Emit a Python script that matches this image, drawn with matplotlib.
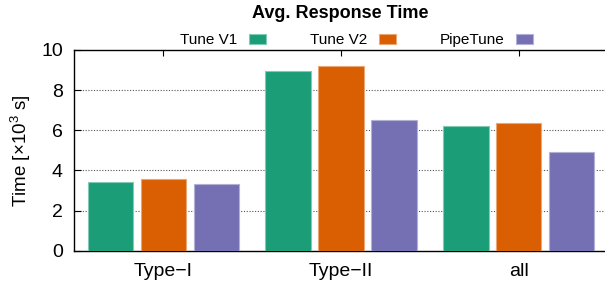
import matplotlib
matplotlib.use("Agg")
import matplotlib.pyplot as plt
import matplotlib.colors as mcolors
import numpy as np

plt.rcParams['font.family'] = ['Liberation Sans', 'DejaVu Sans']
plt.rcParams['mathtext.fontset'] = 'custom'
plt.rcParams['mathtext.rm'] = 'Liberation Sans'
plt.rcParams['mathtext.it'] = 'Liberation Sans:italic'

# datos
categorias = ["Type\u2212I", "Type\u2212II", "all"]
series = ["Tune V1", "Tune V2", "PipeTune"]
tune_v1 = [3.44, 8.95, 6.20]
tune_v2 = [3.56, 9.19, 6.36]
pipetune = [3.34, 6.51, 4.92]
colores = ["#1b9e77", "#d95f02", "#7570b3"]

def aclarar(c, f=0.45):
    r, g, b = mcolors.to_rgb(c)
    return (r + (1 - r) * f, g + (1 - g) * f, b + (1 - b) * f)

fig = plt.figure(figsize=(6.05, 2.89), dpi=100)
ax = fig.add_axes([74 / 605, 1 - 250.7 / 289, 530 / 605, 200.7 / 289])

x = np.arange(len(categorias))
ancho = 0.256
paso = 0.298
valores = [tune_v1, tune_v2, pipetune]
for i in range(len(series)):
    ax.bar(x + (i - 1) * paso, valores[i], ancho, color=colores[i],
           edgecolor=aclarar(colores[i]), linewidth=0.8, label=series[i], zorder=3)

ax.set_xlim(-0.503, 2.48)
ax.set_ylim(0, 10)
ax.set_yticks([0, 2, 4, 6, 8, 10])
ax.set_xticks(x)
ax.set_xticklabels(categorias)

for yv in [2, 4, 6, 8]:
    ax.axhline(yv, color="#555555", linestyle=(0, (1, 1.5)), linewidth=0.8, zorder=1)

ax.tick_params(axis='y', direction='in', length=5, width=0.8, labelsize=14, pad=8, right=False)
ax.tick_params(axis='x', direction='in', length=4, width=0.8, labelsize=14, pad=9,
               top=True, bottom=False)
ax.spines['right'].set_visible(False)
for s in ['left', 'top', 'bottom']:
    ax.spines[s].set_linewidth(1.0)

ax.set_ylabel("Time [\u00d710$^{3}$ s]", fontsize=13.5)
ax.yaxis.set_label_coords((33 - 74) / 530, 0.5)

fig.text(340 / 605, 1 - 13 / 289, "Avg. Response Time", ha='center', va='center',
         fontsize=13, fontweight='bold')

fig.legend(loc='center', bbox_to_anchor=(356.5 / 605, 1 - 40 / 289), ncol=3,
           frameon=False, markerfirst=False, fontsize=11, handlelength=1.1,
           handleheight=0.65, handletextpad=0.8, columnspacing=2.85, borderpad=0.2)

fig.savefig("out.png", dpi=100)
